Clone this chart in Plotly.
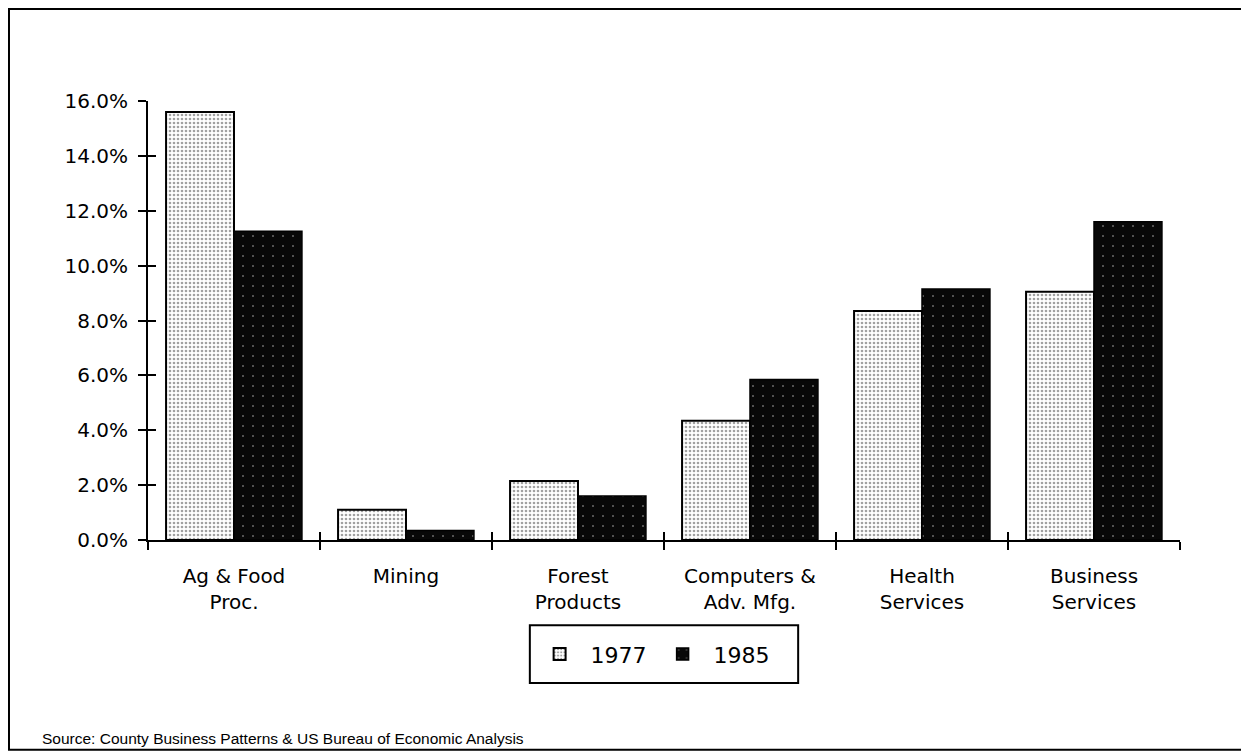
import plotly.graph_objects as go

# industry shares of employment, percent
categories = ["Ag & Food<br>Proc.", "Mining", "Forest<br>Products",
              "Computers &<br>Adv. Mfg.", "Health<br>Services", "Business<br>Services"]
share_1977 = [15.6, 1.1, 2.15, 4.35, 8.35, 9.05]
share_1985 = [11.25, 0.35, 1.6, 5.85, 9.15, 11.6]
y_ticks = [0, 2, 4, 6, 8, 10, 12, 14, 16]
y_tick_text = [f"{v:.1f}%" for v in y_ticks]

font_main = "DejaVu Sans"

fig = go.Figure()
fig.add_trace(go.Bar(
    x=categories, y=share_1977, name="1977",
    marker=dict(color="white", line=dict(color="black", width=2),
                pattern=dict(shape=".", fgcolor="#444", bgcolor="white", size=4, solidity=0.35)),
))
fig.add_trace(go.Bar(
    x=categories, y=share_1985, name="1985",
    marker=dict(color="black", line=dict(color="black", width=1.5),
                pattern=dict(shape=".", fgcolor="#cfcfcf", bgcolor="#080808", size=10, solidity=0.03)),
))
# invisible helper so the overlay axes (inner tick halves) know the categories
fig.add_trace(go.Scatter(x=categories, y=[0] * len(categories), xaxis="x2", yaxis="y2",
                         mode="markers", marker=dict(opacity=0), showlegend=False, hoverinfo="skip"))

# page body has an 8px margin, so the figure is 8px smaller than the window
fig.update_layout(
    width=1241, height=747,
    margin=dict(l=140, r=69, t=93, b=215),
    paper_bgcolor="white", plot_bgcolor="white",
    barmode="group", bargap=0.21, bargroupgap=0,
    font=dict(family=font_main, color="black", size=20),
    showlegend=True,
    legend=dict(orientation="h", x=0.488, xanchor="center", y=-0.26, yanchor="middle",
                font=dict(size=22), bgcolor="rgba(0,0,0,0)", borderwidth=0,
                itemwidth=52, traceorder="normal"),
    xaxis=dict(showline=True, linecolor="black", linewidth=2, showgrid=False,
               ticks="outside", ticklen=8, tickwidth=2, tickcolor="black",
               tickson="boundaries", ticklabelstandoff=17, tickfont=dict(size=20)),
    yaxis=dict(range=[0, 16], showline=True, linecolor="black", linewidth=2, showgrid=False,
               zeroline=False, tickmode="array", tickvals=y_ticks, ticktext=y_tick_text,
               ticks="outside", ticklen=8, tickwidth=2, tickcolor="black",
               ticklabelstandoff=6, tickfont=dict(size=20)),
    xaxis2=dict(overlaying="x", matches="x", showline=False, showgrid=False,
                ticks="inside", ticklen=8, tickwidth=2, tickcolor="black",
                tickson="boundaries", showticklabels=False),
    yaxis2=dict(overlaying="y", range=[0, 16], showline=False, showgrid=False, zeroline=False,
                tickvals=y_ticks, ticks="inside", ticklen=8, tickwidth=2,
                tickcolor="black", showticklabels=False),
)

# outer frame and legend box
fig.add_shape(type="rect", xref="paper", yref="paper",
              x0=-0.1347, x1=1.064, y0=-0.478, y1=1.2096,
              line=dict(color="black", width=2), layer="below")
fig.add_shape(type="rect", xref="paper", yref="paper",
              x0=0.370, x1=0.630, y0=-0.326, y1=-0.194,
              line=dict(color="black", width=2))

fig.add_annotation(text="Source: County Business Patterns & US Bureau of Economic Analysis",
                   xref="paper", yref="paper", x=-0.105, y=-0.453,
                   xanchor="left", yanchor="middle", showarrow=False,
                   font=dict(family="Liberation Sans", size=15.5))

fig.write_html("out.html")
